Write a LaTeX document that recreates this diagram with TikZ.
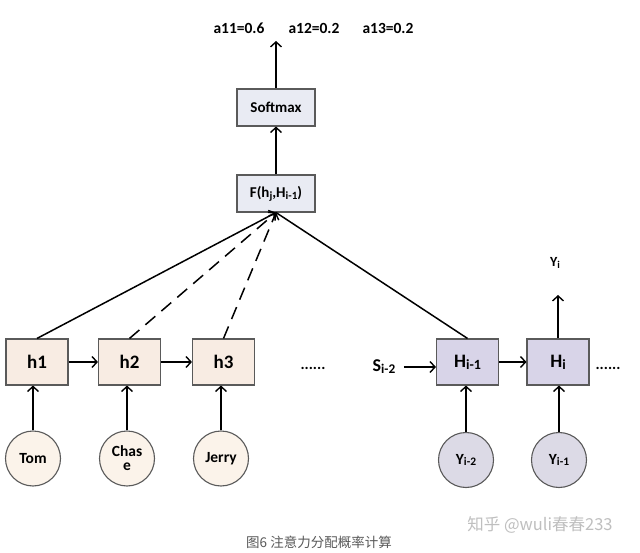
\documentclass[tikz,border=0pt]{standalone}
\usepackage{fontspec}
\setmainfont{Carlito}
\newfontfamily\cjk{Noto Sans CJK SC}
\usetikzlibrary{arrows.meta}
\definecolor{peach}{HTML}{F8ECE3}
\definecolor{peachc}{HTML}{FBF3EA}
\definecolor{lav}{HTML}{D8D4E8}
\definecolor{lavc}{HTML}{DCDAE6}
\definecolor{bluegray}{HTML}{E9EBF3}
\definecolor{edge}{HTML}{5A5A5A}
\newcommand\sbx[1]{\raisebox{-0.12em}{\scalebox{0.74}{#1}}}
\begin{document}
\begin{tikzpicture}[x=1pt,y=-1pt,
  every node/.style={font=\bfseries},
  conn/.style={line width=1.5pt,-{Straight Barb[length=5pt,width=11pt,line width=1.4pt]}},
  plain/.style={line width=1.5pt},
  hbox/.style={draw=edge,line width=1.1pt,fill=peach,minimum width=62pt,minimum height=46pt,inner sep=0pt,font=\bfseries\fontsize{19}{19}\selectfont},
  Hbox/.style={hbox,fill=lav},
  gbox/.style={draw=edge,line width=1.1pt,fill=bluegray,minimum width=78pt,minimum height=37pt,inner sep=0pt,font=\bfseries\fontsize{15}{15}\selectfont},
  wcirc/.style={circle,draw=edge,line width=1.1pt,fill=peachc,minimum size=55pt,inner sep=0pt,font=\bfseries\fontsize{15.5}{16}\selectfont,align=center},
  pcirc/.style={wcirc,fill=lavc},
  lab/.style={font=\bfseries\fontsize{15.5}{15.5}\selectfont}
]
\useasboundingbox[fill=white] (0,0) rectangle (640,553);
% top boxes
\node[gbox] (sm) at (276,107.5) {Softmax};
\node[gbox] (F) at (276,193.5) {F(h\sbx{j},H\sbx{i-1})};
\coordinate (top) at (276,41);
\node[lab] (a11) at (239,28) {a11=0.6};
\node[lab] (a12) at (314,28) {a12=0.2};
\node[lab] (a13) at (388,28) {a13=0.2};
% encoder
\node[hbox] (h1) at (37,362) {h1};
\node[hbox] (h2) at (129.5,362) {h2};
\node[hbox] (h3) at (223.5,362) {h3};
\node[lab] (dots1) at (313,368) {......};
\node[wcirc] (c1) at (33,458.5) {Tom};
\node[wcirc] (c2) at (127,458.5) {Chas\\[-2pt]e};
\node[wcirc] (c3) at (221,458.5) {Jerry};
% decoder
\node[Hbox] (H1) at (467.5,362) {H\sbx{i-1}};
\node[Hbox] (H2) at (558,362) {H\sbx{i}};
\node[lab,font=\bfseries\fontsize{18}{18}\selectfont] (S) at (384,367) {S\sbx{i-2}};
\node[lab] (dots2) at (608,368) {......};
\node[lab,font=\bfseries\fontsize{14}{14}\selectfont] (Y) at (555,263) {Y\sbx{i}};
\coordinate (ytop) at (558,295);
\node[pcirc] (d1) at (466,460) {Y\sbx{i-2}};
\node[pcirc] (d2) at (559,460) {Y\sbx{i-1}};
% connectors
\draw[conn] (sm.north) -- (top);
\draw[conn] (F.north) -- (sm.south);
\draw[conn] (h1.north) -- (F.south);
\draw[conn,dash pattern=on 13pt off 8pt] (h2.north) -- (F.south);
\draw[conn,dash pattern=on 13pt off 8pt] (h3.north) -- (F.south);
\draw[plain] (H1.north) -- (F.south);
\draw[conn] (h1) -- (h2);
\draw[conn] (h2) -- (h3);
\draw[conn] (c1) -- (c1 |- h1.south);
\draw[conn] (c2) -- (c2 |- h2.south);
\draw[conn] (c3) -- (c3 |- h3.south);
\draw[conn] (S.east) ++(5,0) coordinate (se) (se) -- (H1.west |- se);
\draw[conn] (H1) -- (H2);
\draw[conn] (H2.north) -- (ytop);
\draw[conn] (d1) -- (d1 |- H1.south);
\draw[conn] (d2) -- (d2 |- H2.south);
% caption
\node[font=\cjk\fontsize{13.5}{13.5}\selectfont,text=black!65] (cap) at (319,542) {图6 注意力分配概率计算};
\node[font=\cjk\fontsize{16.5}{16.5}\selectfont,text=black!25] (wm) at (540,525) {知乎 @wuli春春233};
\end{tikzpicture}
\end{document}
